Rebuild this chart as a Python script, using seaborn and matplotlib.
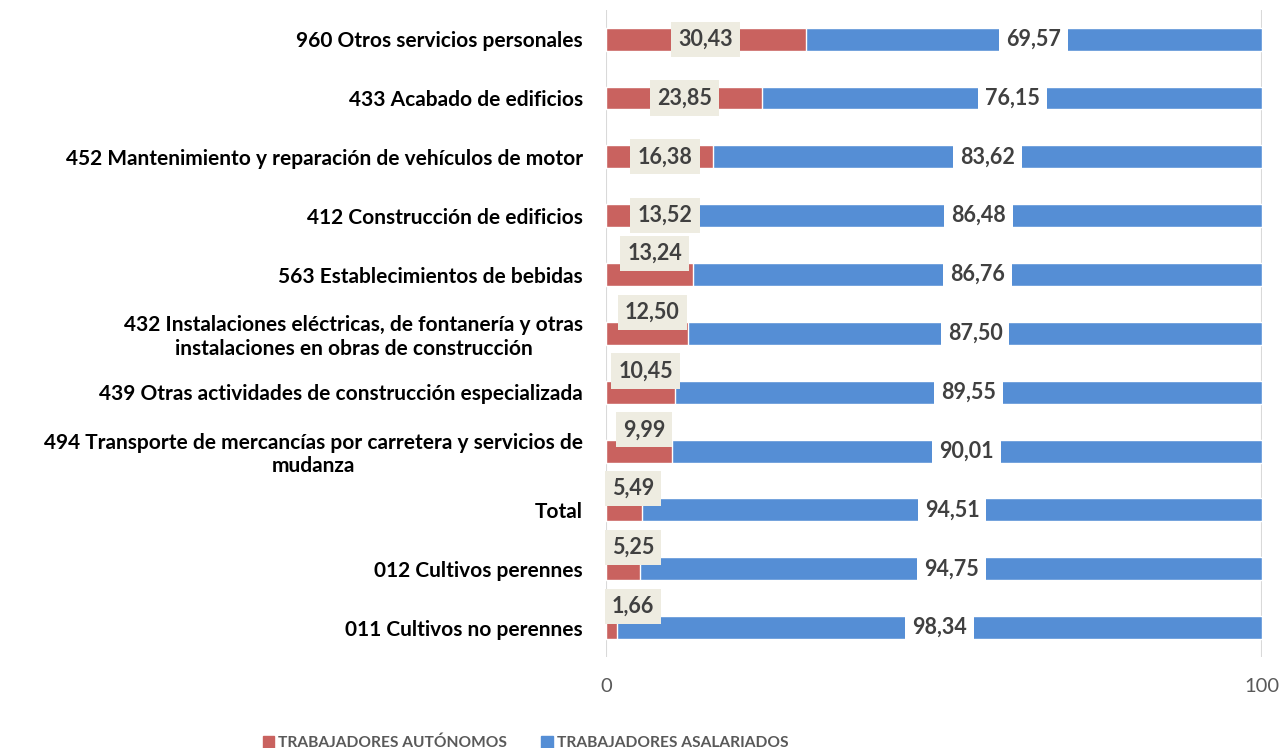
import matplotlib
matplotlib.use("Agg")
import matplotlib.pyplot as plt
import seaborn as sns
import pandas as pd
from matplotlib.patches import Patch

# ------------------ Data ------------------
categorias = [
    "960 Otros servicios personales",
    "433 Acabado de edificios",
    "452 Mantenimiento y reparación de vehículos de motor",
    "412 Construcción de edificios",
    "563 Establecimientos de bebidas",
    "432 Instalaciones eléctricas, de fontanería y otras\ninstalaciones en obras de construcción",
    "439 Otras actividades de construcción especializada",
    "494 Transporte de mercancías por carretera y servicios de\nmudanza",
    "Total",
    "012 Cultivos perennes",
    "011 Cultivos no perennes",
]
autonomos = [30.43, 23.85, 16.38, 13.52, 13.24, 12.50, 10.45, 9.99, 5.49, 5.25, 1.66]
asalariados = [69.57, 76.15, 83.62, 86.48, 86.76, 87.50, 89.55, 90.01, 94.51, 94.75, 98.34]

ROJO = "#C9625F"
AZUL = "#558ED5"
BEIGE = "#EEECE1"
TXT = "#404040"

df = pd.DataFrame({"cat": categorias, "aut": autonomos, "asal": asalariados})
df["total"] = df["aut"] + df["asal"]

sns.set_theme(style="white")
plt.rcParams["font.family"] = ["Lato", "DejaVu Sans"]

fig = plt.figure(figsize=(12.82, 7.48), dpi=100)
ax = fig.add_axes([0.4727, 0.1217, 0.5117, 0.8653])

# stacked: total in blue first, red on top
sns.barplot(data=df, x="total", y="cat", color=AZUL, width=0.39, ax=ax,
            saturation=1, orient="h")
sns.barplot(data=df, x="aut", y="cat", color=ROJO, width=0.39, ax=ax,
            saturation=1, orient="h")

ax.set_xlim(0, 100)
ax.set_ylim(10.5, -0.5)
ax.set_xticks([0, 100])
ax.set_xticklabels(["0", "100"], color="#595959", fontsize=14.5)
ax.tick_params(axis="x", length=0, pad=15)
ax.tick_params(axis="y", length=0, pad=16.5)
for lbl in ax.get_yticklabels():
    lbl.set_fontweight("bold")
    lbl.set_fontsize(15)
    lbl.set_color("black")
    lbl.set_multialignment("center")
ax.set_xlabel("")
ax.set_ylabel("")
for s in ax.spines.values():
    s.set_visible(False)
for xv in [0, 100]:
    ax.axvline(xv, color="#D9D9D9", lw=1.5, zorder=0)

# ------------------ Labels ------------------
for i, (a, b) in enumerate(zip(autonomos, asalariados)):
    ta = f"{a:.2f}".replace(".", ",")
    tb = f"{b:.2f}".replace(".", ",")
    if a >= 13.4:
        xa, ya = max(a / 2, 9.0), i
    else:
        xa, ya = max(a / 2 + 0.8, len(ta) * 1.1 - 0.3), i - 0.36
    ax.text(xa, ya, ta, ha="center", va="center", fontsize=15.5, fontweight="bold",
            color=TXT, zorder=5,
            bbox=dict(boxstyle="square,pad=0.33", fc=BEIGE, ec="none"))
    ax.text(a + b / 2, i, tb, ha="center", va="center", fontsize=15.5, fontweight="bold",
            color=TXT, zorder=5,
            bbox=dict(boxstyle="square,pad=0.33", fc="white", ec="none"))

# ------------------ Legend ------------------
handles = [Patch(color=ROJO, label="TRABAJADORES AUTÓNOMOS"),
           Patch(color=AZUL, label="TRABAJADORES ASALARIADOS")]
leg = fig.legend(handles=handles, loc="lower center", bbox_to_anchor=(0.41, -0.022),
                 ncol=2, frameon=False, handlelength=0.75, handleheight=0.75,
                 handletextpad=0.25, columnspacing=2.2,
                 prop={"weight": "bold", "size": 11.2})
for t in leg.get_texts():
    t.set_color("#595959")

fig.savefig("out.png", dpi=100)
